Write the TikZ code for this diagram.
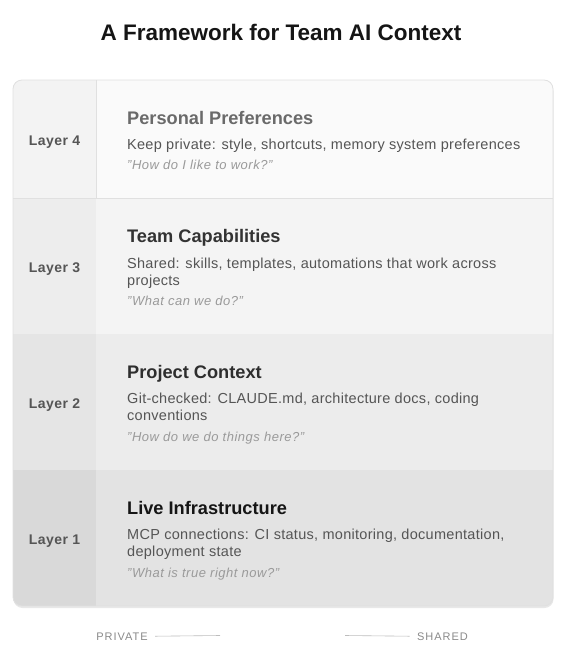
\documentclass[tikz,border=0pt]{standalone}
\usepackage{fontspec}
\setmainfont{Liberation Sans}
\usepackage{tikz}
\usetikzlibrary{calc}
\definecolor{ink}{HTML}{151515}
\definecolor{edge}{HTML}{E0E0E0}
\definecolor{labc}{HTML}{555555}
\definecolor{bodyc}{HTML}{555555}
\definecolor{quotec}{HTML}{9A9A9A}
\definecolor{footc}{HTML}{8A8A8A}
\definecolor{footl}{HTML}{BDBDBD}
\definecolor{fourL}{HTML}{F3F3F3}
\definecolor{fourR}{HTML}{FAFAFA}
\definecolor{threeL}{HTML}{EDEDED}
\definecolor{threeR}{HTML}{F4F4F4}
\definecolor{twoL}{HTML}{E5E5E5}
\definecolor{twoR}{HTML}{ECECEC}
\definecolor{oneL}{HTML}{D9D9D9}
\definecolor{oneR}{HTML}{E3E3E3}
\definecolor{headfour}{HTML}{6A6A6A}
\definecolor{headthree}{HTML}{333333}
\definecolor{headtwo}{HTML}{2E2E2E}
\definecolor{headone}{HTML}{151515}
\tikzset{
  frame/.style={draw=edge, line width=0.8pt, rounded corners=9pt},
  sep/.style={draw=edge, line width=0.6pt},
  maintitle/.style={text=ink, anchor=base, font=\fontsize{22.5}{26}\selectfont\bfseries},
  layerlab/.style={text=labc, anchor=base, font=\fontsize{14}{16}\selectfont\bfseries\addfontfeature{LetterSpace=3}},
  head/.style={anchor=base west, inner sep=0pt, font=\fontsize{18.2}{21}\selectfont\bfseries},
  body/.style={text=bodyc, anchor=base west, inner sep=0pt, font=\fontsize{14.5}{17}\selectfont\addfontfeature{LetterSpace=2}},
  quote/.style={text=quotec, anchor=base west, inner sep=0pt, font=\fontsize{13}{15}\selectfont\itshape\addfontfeature{LetterSpace=4}},
  foot/.style={text=footc, anchor=base, font=\fontsize{11}{13}\selectfont\addfontfeature{LetterSpace=9}},
  footline/.style={draw=footl, line width=0.6pt}
}

\begin{document}
\begin{tikzpicture}[x=1pt, y=-1pt]
  \useasboundingbox[fill=white] (0,0) rectangle (567,659);

  \node[maintitle] (title) at (281,40) {A Framework for Team AI Context};

  % rows, top to bottom
  \coordinate (NW) at (13,80);
  \coordinate (SE) at (553,606);
  \fill[black!9, rounded corners=9pt] ($(NW)+(0.5,2)$) rectangle ($(SE)+(0.5,2)$);
  \begin{scope}
    \clip[rounded corners=9pt] (NW) rectangle (SE);
    \fill[fourL]  (13,80)  rectangle (96,198);
    \fill[fourR]  (96,80)  rectangle (553,198);
    \fill[threeL] (13,198) rectangle (96,334);
    \fill[threeR] (96,198) rectangle (553,334);
    \fill[twoL]   (13,334) rectangle (96,470);
    \fill[twoR]   (96,334) rectangle (553,470);
    \fill[oneL]   (13,470) rectangle (96,606);
    \fill[oneR]   (96,470) rectangle (553,606);
    \draw[sep] (13,198) -- (553,198);
    \draw[sep] (96,80) -- (96,198);
  \end{scope}
  \draw[frame] (NW) rectangle (SE);

  % layer 4
  \node[layerlab] (L4) at (54.5,145.5) {Layer 4};
  \node[head, text=headfour] (H4) at (127,124) {Personal Preferences};
  \node[body] (B4) at (127,149) {Keep private: style, shortcuts, memory system preferences};
  \node[quote] (Q4) at (127,169) {"How do I like to work?"};

  % layer 3
  \node[layerlab] (L3) at (54.5,272.5) {Layer 3};
  \node[head, text=headthree] (H3) at (127,242) {Team Capabilities};
  \node[body] (B3a) at (127,268) {Shared: skills, templates, automations that work across};
  \node[body] (B3b) at (127,285) {projects};
  \node[quote] (Q3) at (127,305) {"What can we do?"};

  % layer 2
  \node[layerlab] (L2) at (54.5,408.5) {Layer 2};
  \node[head, text=headtwo] (H2) at (127,378) {Project Context};
  \node[body] (B2a) at (127,403) {Git-checked: CLAUDE.md, architecture docs, coding};
  \node[body] (B2b) at (127,420) {conventions};
  \node[quote] (Q2) at (127,441) {"How do we do things here?"};

  % layer 1
  \node[layerlab] (L1) at (54.5,544) {Layer 1};
  \node[head, text=headone] (H1) at (127,514) {Live Infrastructure};
  \node[body] (B1a) at (127,539) {MCP connections: CI status, monitoring, documentation,};
  \node[body] (B1b) at (127,556) {deployment state};
  \node[quote] (Q1) at (127,577) {"What is true right now?"};

  % private / shared scale
  \node[foot] (priv) at (122,640) {PRIVATE};
  \node[foot] (shar) at (442.5,640) {SHARED};
  \coordinate (privEnd) at (220,635.5);
  \coordinate (sharEnd) at (345,635.5);
  \draw[footline] ($(priv.east)+(4,0)$) -- (privEnd);
  \draw[footline] (sharEnd) -- ($(shar.west)+(-4,0)$);
\end{tikzpicture}
\end{document}
